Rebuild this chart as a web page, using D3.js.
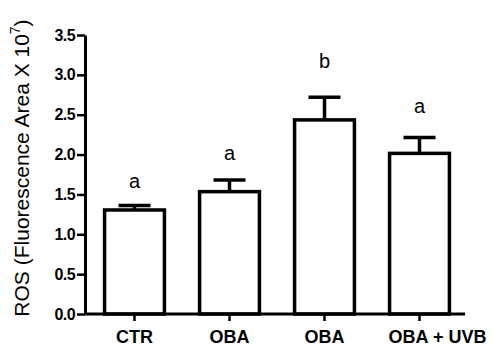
<!DOCTYPE html>
<html>
<head>
<meta charset="utf-8">
<script src="https://cdn.jsdelivr.net/npm/d3@7"></script>
<style>
    body { margin: 0; background: #fff; }
    svg { display: block; font-family: "Liberation Sans", Arial, sans-serif; }
</style>
</head>
<body>
<svg id="chart" width="494" height="354"></svg>
<script>
'use strict';

// values
const groups = ['CTR', 'OBA', 'OBA ', 'OBA + UVB'];
const groupLabels = ['CTR', 'OBA', 'OBA', 'OBA + UVB'];
const means = [1.305, 1.535, 2.435, 2.015];
const errors = [0.055, 0.145, 0.285, 0.2];
const letters = ['a', 'a', 'b', 'a'];
const letterHeights = [1.58, 1.93, 3.09, 2.52]; // in data units
const yTicks = [0, 0.5, 1, 1.5, 2, 2.5, 3, 3.5];

const svg = d3.select('#chart');

const y = d3.scaleLinear()
    .domain([0, 3.5])
    .range([314, 35]);

const x = d3.scaleBand()
    .domain(groups)
    .range([87, 467])
    .paddingInner(0.37)
    .paddingOuter(0.185);

// bars
svg.append('g')
    .selectAll('rect')
    .data(groups)
    .enter()
    .append('rect')
    .attr('x', (d) => x(d))
    .attr('y', (d, i) => y(means[i]))
    .attr('width', x.bandwidth())
    .attr('height', (d, i) => y(0) - y(means[i]))
    .attr('fill', '#fff')
    .attr('stroke', '#000')
    .attr('stroke-width', 3.5);

// error bars (upper only)
let err = svg.append('g')
    .attr('stroke', '#000')
    .attr('stroke-width', 3.5);

groups.forEach((g, i) => {

    let cx = x(g) + x.bandwidth() / 2;
    let top = y(means[i] + errors[i]);

    err.append('line')
        .attr('x1', cx).attr('x2', cx)
        .attr('y1', y(means[i])).attr('y2', top);
    err.append('line')
        .attr('x1', cx - 16).attr('x2', cx + 16)
        .attr('y1', top).attr('y2', top);
});

// significance letters
svg.append('g')
    .selectAll('text')
    .data(letters)
    .enter()
    .append('text')
    .attr('x', (d, i) => x(groups[i]) + x.bandwidth() / 2)
    .attr('y', (d, i) => y(letterHeights[i]))
    .attr('text-anchor', 'middle')
    .attr('font-size', 20)
    .text((d) => d);

// y axis
let yAxis = svg.append('g')
    .attr('transform', 'translate(85,0)')
    .call(d3.axisLeft(y)
        .tickValues(yTicks)
        .tickFormat(d3.format('.1f'))
        .tickSize(8)
        .tickSizeOuter(0)
        .tickPadding(2));

yAxis.select('.domain').attr('stroke-width', 3);
yAxis.selectAll('.tick line').attr('stroke-width', 2.5);
yAxis.selectAll('.tick text')
    .attr('font-family', '"Liberation Sans", Arial, sans-serif')
    .attr('font-size', 16)
    .attr('font-weight', 'bold')
    .attr('letter-spacing', -0.6)
    .attr('fill', '#000');

// x axis
let xAxis = svg.append('g')
    .attr('transform', 'translate(0,314)')
    .call(d3.axisBottom(x)
        .tickSize(7)
        .tickSizeOuter(0)
        .tickPadding(9)
        .tickFormat((d, i) => groupLabels[i]));

xAxis.select('.domain').remove();
xAxis.append('line')
    .attr('x1', 85).attr('x2', 465)
    .attr('y1', 0).attr('y2', 0)
    .attr('stroke', '#000')
    .attr('stroke-width', 3);
xAxis.selectAll('.tick line').attr('stroke-width', 2.5);
xAxis.selectAll('.tick text')
    .attr('font-family', '"Liberation Sans", Arial, sans-serif')
    .attr('font-size', 18)
    .attr('font-weight', 'bold')
    .attr('fill', '#000')
    .attr('dx', (d, i) => i === groups.length - 1 ? 18 : 0); // long label sits right of its tick

// y axis title
let title = svg.append('text')
    .attr('transform', 'translate(29,168) rotate(-90)')
    .attr('text-anchor', 'middle')
    .attr('font-size', 21)
    .attr('fill', '#000');

title.append('tspan').text('ROS (Fluorescence Area X 10');
title.append('tspan').attr('dy', -9).attr('font-size', 14).text('7');
title.append('tspan').attr('dy', 9).text(')');
</script>
</body>
</html>
